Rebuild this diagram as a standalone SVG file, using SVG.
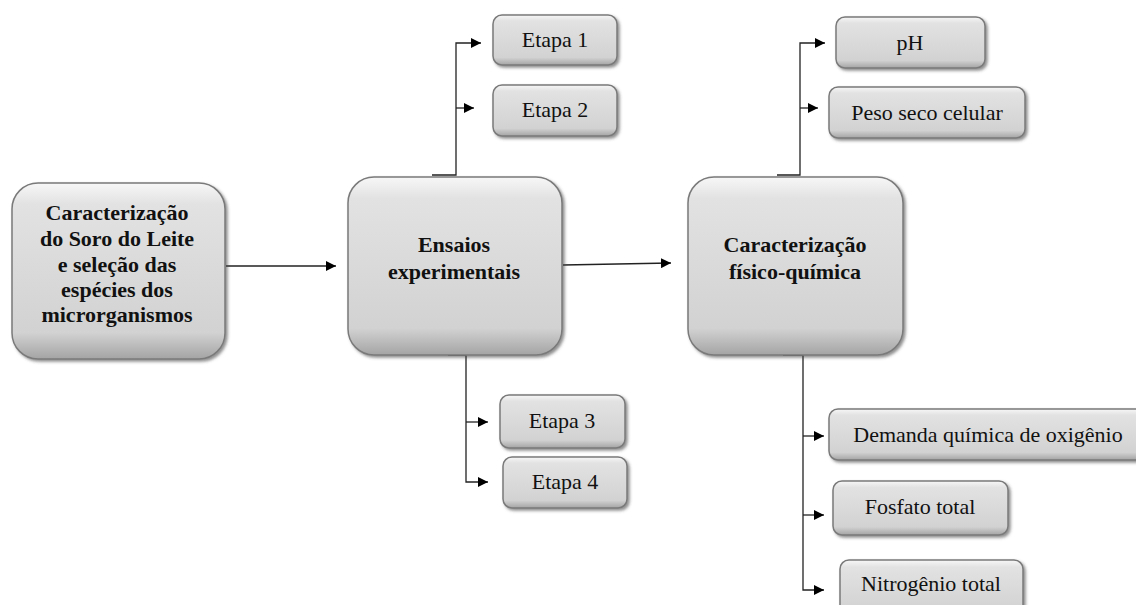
<svg xmlns="http://www.w3.org/2000/svg" width="1136" height="605" viewBox="0 0 1136 605">
<defs>
<linearGradient id="g" x1="0" y1="0" x2="0" y2="1">
<stop offset="0" stop-color="#f7f7f7"/>
<stop offset="0.12" stop-color="#e2e2e2"/>
<stop offset="0.85" stop-color="#d2d2d2"/>
<stop offset="1" stop-color="#a4a4a4"/>
</linearGradient>
<filter id="sh" x="-10%" y="-10%" width="130%" height="130%">
<feDropShadow dx="2" dy="2" stdDeviation="1.5" flood-color="#444" flood-opacity="0.6"/>
</filter>
<marker id="ah" viewBox="0 0 10 10" refX="10" refY="5" markerWidth="10" markerHeight="10" markerUnits="userSpaceOnUse" orient="auto">
<path d="M0,0 L10,5 L0,10 z" fill="#000"/>
</marker>
<style>
.box{fill:url(#g);stroke:#7a7a7a;stroke-width:1.5;filter:url(#sh)}
.t{font-family:"Liberation Serif","Times New Roman",serif;font-size:22px;fill:#111;text-anchor:middle}
.b{font-weight:bold}
.c{fill:none;stroke:#222;stroke-width:1.3}
</style>
</defs>
<rect width="1136" height="605" fill="#fff"/>
<g id="connectors">
<path class="c" d="M226,266 L336,266" marker-end="url(#ah)"/>
<path class="c" d="M563,265 L671,263" marker-end="url(#ah)"/>
<path class="c" d="M432,175 L456,175 L456,43 L481,43" marker-end="url(#ah)"/>
<path class="c" d="M456,108 L474,108" marker-end="url(#ah)"/>
<path class="c" d="M448,355 L466,355 L466,482 L488,482" marker-end="url(#ah)"/>
<path class="c" d="M466,422 L488,422" marker-end="url(#ah)"/>
<path class="c" d="M777,175 L800,175 L800,43 L825,43" marker-end="url(#ah)"/>
<path class="c" d="M800,108 L818,108" marker-end="url(#ah)"/>
<path class="c" d="M783,355 L803,355 L803,590 L824,590" marker-end="url(#ah)"/>
<path class="c" d="M803,436 L824,436" marker-end="url(#ah)"/>
<path class="c" d="M803,515 L824,515" marker-end="url(#ah)"/>
</g>
<g id="n1"><rect class="box" x="12" y="183" width="213" height="176" rx="26"/>
<text class="t b" x="117" y="220">Caracterização</text>
<text class="t b" x="117" y="246">do Soro do Leite</text>
<text class="t b" x="117" y="272">e seleção das</text>
<text class="t b" x="117" y="297">espécies dos</text>
<text class="t b" x="117" y="322">microrganismos</text></g>
<g id="n2"><rect class="box" x="348" y="177" width="214" height="178" rx="26"/>
<text class="t b" x="454" y="252">Ensaios</text>
<text class="t b" x="454" y="279">experimentais</text></g>
<g id="n3"><rect class="box" x="688" y="177" width="215" height="178" rx="26"/>
<text class="t b" x="795" y="252">Caracterização</text>
<text class="t b" x="795" y="279">físico-química</text></g>
<g id="e1"><rect class="box" x="493" y="15" width="124" height="50" rx="9"/><text class="t" x="555" y="47">Etapa 1</text></g>
<g id="e2"><rect class="box" x="493" y="85" width="124" height="51" rx="9"/><text class="t" x="555" y="117">Etapa 2</text></g>
<g id="e3"><rect class="box" x="500" y="395" width="125" height="53" rx="9"/><text class="t" x="562" y="428">Etapa 3</text></g>
<g id="e4"><rect class="box" x="503" y="457" width="124" height="51" rx="9"/><text class="t" x="565" y="489">Etapa 4</text></g>
<g id="ph"><rect class="box" x="836" y="17" width="149" height="51" rx="9"/><text class="t" x="910" y="50">pH</text></g>
<g id="peso"><rect class="box" x="829" y="87" width="196" height="51" rx="9"/><text class="t" x="927" y="120">Peso seco celular</text></g>
<g id="dqo"><rect class="box" x="829" y="409" width="320" height="51" rx="9"/><text class="t" x="988" y="442">Demanda química de oxigênio</text></g>
<g id="fosf"><rect class="box" x="833" y="481" width="175" height="54" rx="9"/><text class="t" x="920" y="514">Fosfato total</text></g>
<g id="nitro"><rect class="box" x="840" y="560" width="183" height="60" rx="9"/><text class="t" x="931" y="591">Nitrogênio total</text></g>
</svg>
